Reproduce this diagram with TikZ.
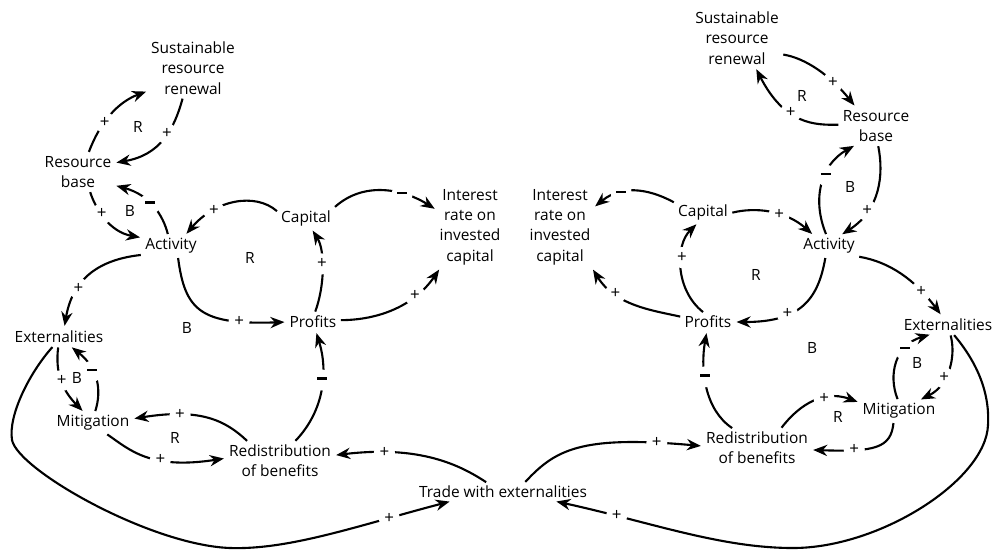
\documentclass[tikz,border=0pt]{standalone}
\usepackage{fontspec}
\setmainfont{Open Sans}
\usetikzlibrary{arrows.meta}
\newcommand{\minusbar}{\rule[0.3ex]{7pt}{1.7pt}}

\begin{document}
\begin{tikzpicture}[x=0.025cm, y=-0.025cm,
  var/.style={align=center, inner sep=2pt, font=\fontsize{11}{14.4}\selectfont},
  link/.style={-{Stealth[length=10pt, width=8pt]}, line width=1.5pt, shorten >=1.5pt, shorten <=1pt},
  pol/.style={circle, fill=white, inner sep=0pt, minimum size=15pt, font=\fontsize{12}{13}\selectfont},
  lp/.style={font=\fontsize{11}{13}\selectfont}
]
  \useasboundingbox (0,0) rectangle (992,549);

  % Left economy
  \node[var] (srrL) at (193,68) {Sustainable\\resource\\renewal};
  \node[var] (rbL) at (78,172) {Resource\\base};
  \node[var] (actL) at (171,246) {Activity};
  \node[var] (capL) at (306,218) {Capital};
  \node[var] (irL) at (470,227) {Interest\\rate on\\invested\\capital};
  \node[var] (proL) at (313,322) {Profits};
  \node[var] (extL) at (59,337) {Externalities};
  \node[var] (mitL) at (93,423) {Mitigation};
  \node[var] (redL) at (280,461) {Redistribution\\of benefits};

  % Right economy
  \node[var] (srrR) at (737,38) {Sustainable\\resource\\renewal};
  \node[var] (rbR) at (876,126) {Resource\\base};
  \node[var] (actR) at (829,246) {Activity};
  \node[var] (capR) at (703,212) {Capital};
  \node[var] (irR) at (560,227) {Interest\\rate on\\invested\\capital};
  \node[var] (proR) at (708,322) {Profits};
  \node[var] (extR) at (948,325) {Externalities};
  \node[var] (mitR) at (899,411) {Mitigation};
  \node[var] (redR) at (757,448) {Redistribution\\of benefits};

  % Shared
  \node[var] (trade) at (503,492) {Trade with externalities};

  % Loop labels
  \node[lp] (lpL1) at (138,127) {R};
  \node[lp] (lpL2) at (130,211) {B};
  \node[lp] (lpL3) at (250,258) {R};
  \node[lp] (lpL4) at (187,328) {B};
  \node[lp] (lpL5) at (77,378) {B};
  \node[lp] (lpL6) at (175,438) {R};
  \node[lp] (lpR1) at (802,96) {R};
  \node[lp] (lpR2) at (850,187) {B};
  \node[lp] (lpR3) at (756,275) {R};
  \node[lp] (lpR4) at (812,348) {B};
  \node[lp] (lpR5) at (917,363) {B};
  \node[lp] (lpR6) at (838,417) {R};

  % Left links
  \draw[link] (rbL.61) .. controls (100,122) and (118,102) .. (srrL.207) node[pol, pos=0.38] {+};
  \draw[link] (srrL.251) .. controls (174,130) and (160,155) .. (rbL.14) node[pol, pos=0.42] {+};
  \draw[link] (actL.105) .. controls (163,215) and (150,195) .. (rbL.340) node[pol, pos=0.55] {\minusbar};
  \draw[link] (rbL.302) .. controls (96,210) and (110,232) .. (actL.164) node[pol, pos=0.4] {+};
  \draw[link] (capL.168) .. controls (255,192) and (215,200) .. (actL.37) node[pol, pos=0.7] {+};
  \draw[link] (capL.20) .. controls (365,180) and (405,190) .. (irL.153) node[pol, pos=0.66] {\minusbar};
  \draw[link] (actL.303) .. controls (185,310) and (200,325) .. (proL.west) node[pol, pos=0.78] {+};
  \draw[link] (proL.79) .. controls (325,285) and (325,250) .. (capL.-63) node[pol, pos=0.55] {+};
  \draw[link] (proL.4) .. controls (380,320) and (415,305) .. (irL.234) node[pol, pos=0.7] {+};
  \draw[link] (actL.197) .. controls (95,260) and (72,282) .. (extL.60) node[pol, pos=0.65] {+};
  \draw[link] (extL.266) .. controls (55,372) and (62,390) .. (mitL.130) node[pol, pos=0.5] {+};
  \draw[link] (mitL.80) .. controls (102,390) and (98,368) .. (extL.-39) node[pol, pos=0.62] {\minusbar};
  \draw[link] (redL.149) .. controls (225,420) and (200,408) .. (mitL.6) node[pol, pos=0.72] {+};
  \draw[link] (mitL.-39) .. controls (130,450) and (150,470) .. (redL.177) node[pol, pos=0.62] {+};
  \draw[link] (redL.53) .. controls (325,410) and (328,370) .. (proL.-73) node[pol, pos=0.58] {\minusbar};
  \draw[link] (extL.238) .. controls (30,372) and (8,415) .. (12,440)
    .. controls (18,470) and (150,545) .. (230,548)
    .. controls (290,550) and (360,525) .. (trade.190) node[pol, pos=0.76] {+};
  \draw[link] (trade.150) .. controls (460,465) and (420,445) .. (redL.6) node[pol, pos=0.78] {+};

  % Right links
  \draw[link] (trade.23) .. controls (555,450) and (580,435) .. (redR.178) node[pol, pos=0.86] {+};
  \draw[link] (extR.-60) .. controls (975,360) and (990,390) .. (988,425)
    .. controls (986,480) and (880,548) .. (793,548)
    .. controls (720,548) and (650,522) .. (trade.-10) node[pol, pos=0.77] {+};
  \draw[link] (mitR.-117) .. controls (891,448) and (875,452) .. (redR.-2) node[pol, pos=0.72] {+};
  \draw[link] (redR.39) .. controls (795,410) and (820,388) .. (mitR.168) node[pol, pos=0.66] {+};
  \draw[link] (redR.141) .. controls (705,410) and (700,370) .. (proR.-97) node[pol, pos=0.6] {\minusbar};
  \draw[link] (actR.-108) .. controls (818,300) and (800,322) .. (proR.east) node[pol, pos=0.65] {+};
  \draw[link] (proR.113) .. controls (675,290) and (675,245) .. (capR.-115) node[pol, pos=0.6] {+};
  \draw[link] (proR.169) .. controls (650,310) and (615,305) .. (irR.-52) node[pol, pos=0.7] {+};
  \draw[link] (capR.162) .. controls (655,192) and (625,182) .. (irR.30) node[pol, pos=0.7] {\minusbar};
  \draw[link] (capR.-2) .. controls (755,207) and (785,210) .. (actR.145) node[pol, pos=0.6] {+};
  \draw[link] (actR.-20) .. controls (890,262) and (915,280) .. (extR.124) node[pol, pos=0.74] {+};
  \draw[link] (extR.-76) .. controls (956,355) and (950,385) .. (mitR.28) node[pol, pos=0.62] {+};
  \draw[link] (mitR.95) .. controls (888,375) and (895,345) .. (extR.209) node[pol, pos=0.68] {\minusbar};
  \draw[link] (rbR.-84) .. controls (884,175) and (880,210) .. (actR.43) node[pol, pos=0.7] {+};
  \draw[link] (actR.103) .. controls (812,200) and (820,165) .. (rbR.223) node[pol, pos=0.6] {\minusbar};
  \draw[link] (rbR.178) .. controls (815,125) and (785,125) .. (srrR.-58) node[pol, pos=0.6] {+};
  \draw[link] (srrR.-20) .. controls (805,58) and (830,75) .. (rbR.137) node[pol, pos=0.7] {+};
\end{tikzpicture}
\end{document}
